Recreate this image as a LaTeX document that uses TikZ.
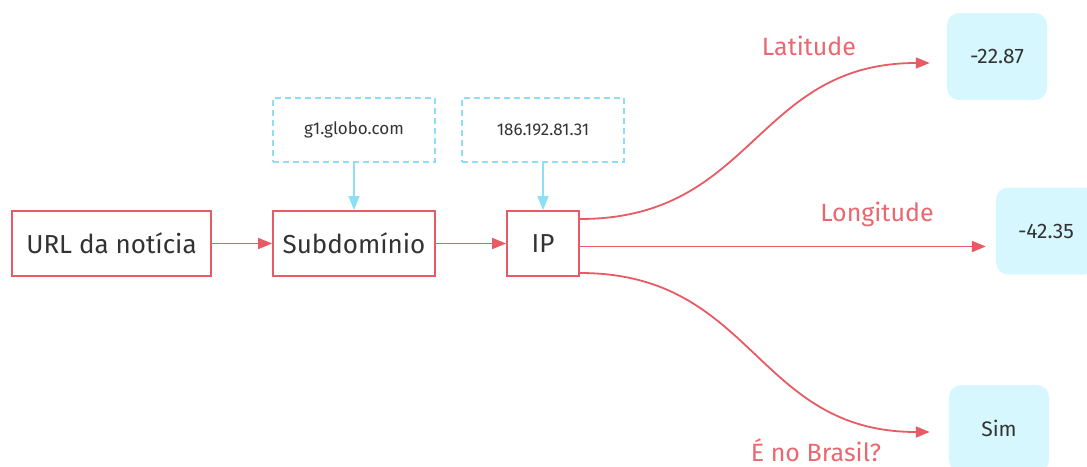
\documentclass[tikz,border=0pt]{standalone}
\usepackage{fontspec}
\setmainfont{Fira Sans}
\usetikzlibrary{arrows.meta}
\definecolor{flowred}{HTML}{E85A64}
\definecolor{lblred}{HTML}{EB6770}
\definecolor{hintblue}{HTML}{8EDEF4}
\definecolor{valfill}{HTML}{D6F7FD}
\definecolor{ink}{HTML}{333333}

\begin{document}
\begin{tikzpicture}[x=1pt,y=-1pt,
  stepbox/.style={draw=flowred, line width=1.8pt, fill=white, minimum height=65pt, inner sep=0pt, text=ink, font=\fontsize{26}{30}\selectfont},
  hintbox/.style={draw=hintblue, dash pattern=on 6pt off 4pt, line width=1.5pt, minimum width=162pt, minimum height=64pt, text=ink, font=\fontsize{17}{20}\selectfont},
  valbox/.style={fill=valfill, rounded corners=12pt, minimum width=100pt, minimum height=87pt, text=ink, font=\fontsize{21}{24}\selectfont},
  lbl/.style={text=lblred, inner sep=0pt, font=\fontsize{25}{28}\selectfont},
  flow/.style={draw=flowred, line width=1.8pt, -{Triangle[length=14pt,width=11pt]}},
  hint/.style={draw=hintblue, line width=1.5pt, -{Triangle[length=14pt,width=11pt]}}]
\useasboundingbox (0,0) rectangle (1087,466);

% main chain
\node[stepbox, minimum width=199pt] (url) at (111.5,243.5) {URL da notícia};
\node[stepbox, minimum width=162pt] (sub) at (354,243.5) {Subdomínio};
\node[stepbox, minimum width=72pt] (ip) at (543,243.5) {IP};
\draw[flow] (url) -- (sub);
\draw[flow] (sub) -- (ip);

% looked up values
\node[hintbox] (host) at (354,130) {g1.globo.com};
\node[hintbox] (addr) at (543,130) {186.192.81.31};
\draw[hint] (host) -- (sub);
\draw[hint] (addr) -- (ip);

% results
\node[valbox] (lat) at (997,56.5) {-22.87};
\node[valbox] (lon) at (1046,231) {-42.35};
\node[valbox] (br) at (999,428.5) {Sim};
\draw[flow, shorten >=17pt] ([yshift=24.5pt]ip.east) .. controls +(175,0) and +(-192,0) .. ([yshift=-6.5pt]lat.west);
\draw[flow, shorten >=10pt] ([yshift=-3pt]ip.east) -- ([yshift=-15.5pt]lon.west);
\draw[flow, shorten >=19pt] ([yshift=-29.5pt]ip.east) .. controls +(175,0) and +(-194,0) .. ([yshift=-3.5pt]br.west);
\node[lbl] (latlbl) at (809,46) {Latitude};
\node[lbl] (lonlbl) at (877,214) {Longitude};
\node[lbl] (brlbl) at (816,450) {É no Brasil?};
\end{tikzpicture}
\end{document}
